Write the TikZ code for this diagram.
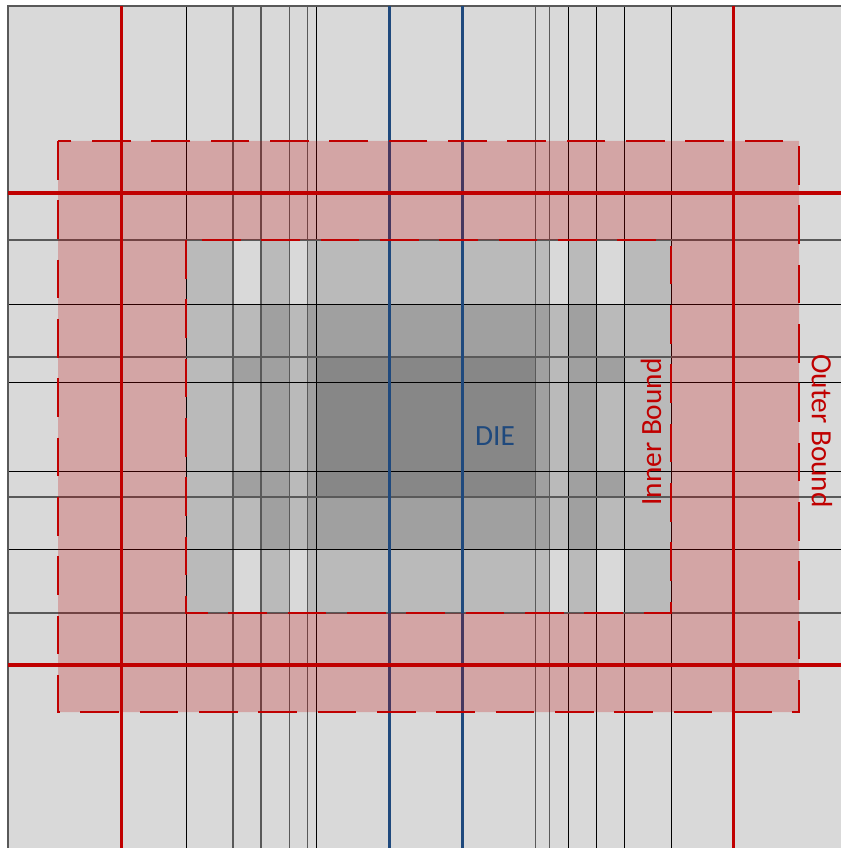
\documentclass[tikz,border=0pt]{standalone}
\usepackage{fontspec}
\setmainfont{Carlito}
\definecolor{bgc}{HTML}{D9D9D9}
\definecolor{lvA}{HTML}{BABABA}
\definecolor{lvB}{HTML}{A0A0A0}
\definecolor{lvC}{HTML}{878787}
\definecolor{redc}{HTML}{C00000}
\definecolor{bluec}{HTML}{1F497D}
\definecolor{gridg}{HTML}{595959}
\tikzset{
  gridk/.style={draw=black, line width=0.65pt},
  gridgr/.style={draw=gridg, line width=0.95pt},
  redline/.style={draw=redc, line width=2.8pt},
  blueline/.style={draw=bluec, line width=2.3pt},
  bounddash/.style={draw=redc, line width=2pt, dash pattern=on 29pt off 15.5pt},
  band/.style={fill=redc, fill opacity=0.24, even odd rule},
  lbl/.style={font=\fontsize{22}{25}\selectfont, inner sep=0pt}
}
\begin{document}
\begin{tikzpicture}[x=0.75pt,y=-0.75pt]
\useasboundingbox (0,0) rectangle (841,848);
\clip (0,0) rectangle (841,848);
% background
\fill[bgc] (8,6) rectangle (841,848);
% shaded cells inside the inner bound
\fill[lvA] (186,240) rectangle (671,613);
\foreach \ya/\yb in {240/304, 549/613}{
  \foreach \xa/\xb in {233/261, 289.3/307.7, 549.7/568.3, 596.3/624.3}{
    \fill[bgc] (\xa,\ya) rectangle (\xb,\yb);
  }
}
\fill[lvB] (261,304) rectangle (289.3,549);
\fill[lvB] (307.7,304) rectangle (549.7,549);
\fill[lvB] (568.3,304) rectangle (596.3,549);
\foreach \ya/\yb in {357/382, 471/497}{
  \fill[lvB] (233,\ya) rectangle (261,\yb);
  \fill[lvB] (596.3,\ya) rectangle (624.3,\yb);
}
\fill[lvC] (316,357) rectangle (535.5,497);
% grid lines
\foreach \x in {186, 316, 568.3, 596.3, 624.3, 671}{
  \draw[gridk] (\x,6) -- (\x,848);
}
\foreach \x in {233, 261, 289.3, 307.7, 535.5, 549.7}{
  \draw[gridgr] (\x,6) -- (\x,848);
}
\foreach \y in {304, 382, 471, 549}{
  \draw[gridk] (8,\y) -- (841,\y);
}
\foreach \y in {240, 357, 497, 613}{
  \draw[gridgr] (8,\y) -- (841,\y);
}
\draw[gridgr] (8,848) -- (8,6) -- (841,6);
% blue die lines
\draw[blueline] (389.5,6) -- (389.5,848);
\draw[blueline] (462.7,6) -- (462.7,848);
% band between the bounds
\fill[band] (58,141) rectangle (799,712) (186,240) rectangle (671,613);
% red lines
\draw[redline] (121.5,6) -- (121.5,848);
\draw[redline] (733.5,6) -- (733.5,848);
\draw[redline] (8,193) -- (841,193);
\draw[redline] (8,665) -- (841,665);
% bounds
\draw[bounddash] (58,141) rectangle (799,712);
\draw[bounddash] (186,240) rectangle (671,613);
% labels
\node[lbl, text=bluec] (die) at (495,436) {DIE};
\node[lbl, text=redc, rotate=90] (inner) at (651,432) {Inner Bound};
\node[lbl, text=redc, rotate=-90] (outer) at (822,431) {Outer Bound};
\end{tikzpicture}
\end{document}
